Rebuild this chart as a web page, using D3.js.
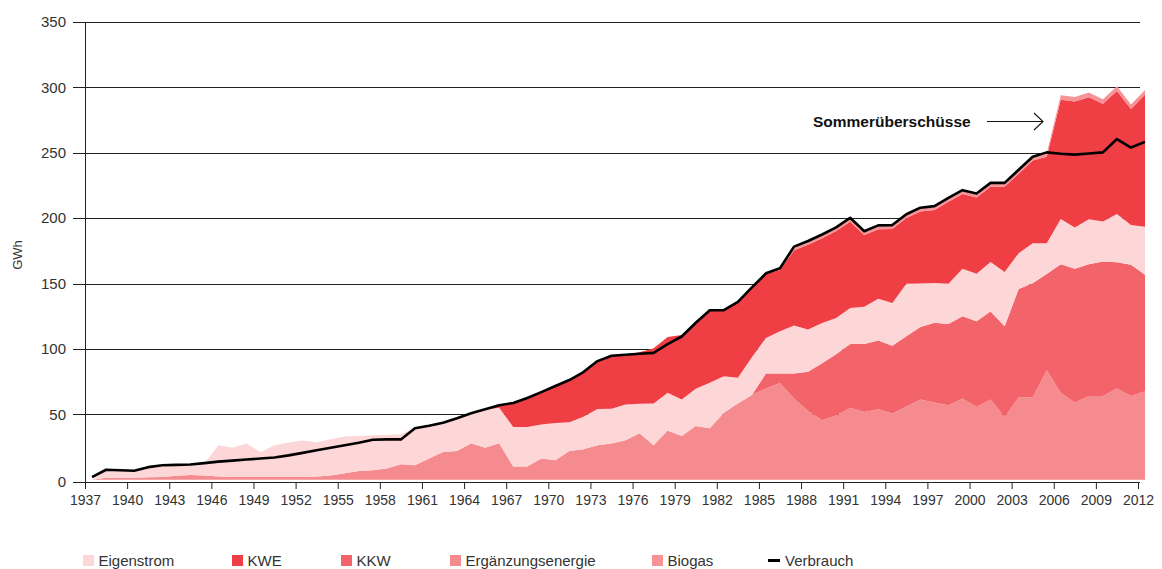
<!DOCTYPE html>
<html>
<head>
<meta charset="utf-8">
<script src="https://cdn.jsdelivr.net/npm/d3@7"></script>
<style>
  body { margin: 0; background: #fff; }
  svg { display: block; font-family: "Liberation Sans", Arial, Helvetica, sans-serif; }
</style>
</head>
<body>
<div id="graph"></div>
<script>
var years = d3.range(1937, 2013)

// GWh per year
var ergaenzung = [0, 1.5, 1.5, 1.5, 1.8, 2, 3, 3.5, 3.2, 2.5,
  2, 2, 2, 2, 2, 2, 2.5, 3.3, 4.9, 6.7,
  7.2, 8.5, 11.8, 11, 16.3, 21.2, 22, 27.8, 24.5, 27.8,
  10, 10, 16.2, 14.9, 22, 23.3, 26.3, 27.6, 30.1, 35.5,
  26.3, 37.7, 33.4, 41, 39.3, 51.2, 58.3, 64.7, 69.8, 74,
  62, 52.5, 45.5, 49, 55, 51.7, 53.8, 50.7, 56, 61.4,
  59, 57, 62, 55.5, 61.4, 48, 63, 63.1, 83.7, 66.5,
  59, 64, 64, 69.8, 64, 67.7]
var kkw = [0, 0, 0, 0, 0, 0, 0, 0, 0, 0,
  0, 0, 0, 0, 0, 0, 0, 0, 0, 0,
  0, 0, 0, 0, 0, 0, 0, 0, 0, 0,
  0, 0, 0, 0, 0, 0, 0, 0, 0, 0,
  0, 0, 0, 0, 0, 0, 0, 0, 11.4, 7.2,
  19.2, 30.1, 43.5, 47, 48.8, 52.1, 52.6, 51.8, 53.7, 55.4,
  61, 62, 62.9, 65.6, 67.3, 69.3, 82.8, 87.2, 73.6, 98.3,
  102.3, 100.8, 102.8, 96.5, 100.3, 89]
var eigenstrom = [0, 5.5, 5.3, 4.8, 7.2, 8.4, 7.8, 7.6, 9, 23.8,
  22.5, 25.6, 19, 24.3, 26.5, 28, 26.1, 27.7, 28.1, 26.7,
  26.7, 25.7, 22.9, 28.5, 25.3, 23.2, 26, 23.7, 29, 27.2,
  30.3, 30.3, 26.1, 28.5, 22, 24.9, 27.7, 26.7, 27.5, 22.5,
  32, 28.8, 28, 28.5, 34.8, 28, 19.6, 28.9, 27.2, 32.3,
  36.8, 32.2, 30.9, 27.7, 27.5, 28.5, 32, 32.6, 40.1, 33.2,
  30.5, 30.8, 36.4, 36.4, 37.7, 41.5, 27.4, 30.6, 23.6, 34.6,
  31.5, 34.4, 30.6, 36.9, 30.5, 36.8]
var kwe = [0, 0, 0, 0, 0, 0, 0, 0, 0, 0,
  0, 0, 0, 0, 0, 0, 0, 0, 0, 0,
  0, 0, 0, 0, 0, 0, 0, 0, 0, 2.5,
  18.2, 21.7, 24.2, 27.6, 31.5, 33.8, 36.5, 40.2, 37.9, 39.5,
  42.2, 42.7, 49.2, 50.5, 55.2, 50.1, 57.9, 53.2, 49.1, 46.8,
  57.5, 64.8, 64.7, 66.4, 66, 54.8, 53.1, 56.7, 50.3, 55.1,
  55.8, 62.7, 57.1, 58.3, 57.6, 65.2, 60.8, 63.1, 66.1, 91.1,
  96.4, 93.3, 90.1, 94.1, 88.7, 101]
var biogas = [0, 0, 0, 0, 0, 0, 0, 0, 0, 0,
  0, 0, 0, 0, 0, 0, 0, 0, 0, 0,
  0, 0, 0, 0, 0, 0, 0, 0, 0, 0,
  0, 0, 0, 0, 0, 0, 0, 0, 0, 0,
  0, 0, 0, 0, 0, 0, 0, 0, 0, 1,
  2, 2.2, 2.2, 2.2, 2.2, 2.2, 2.2, 2.2, 2.2, 2.2,
  2.2, 2.2, 2.2, 2.2, 2.2, 2.2, 2.2, 2.2, 2.5, 3.5,
  3.5, 3.5, 3.5, 3.5, 3.5, 3.5]
var verbrauch = [2, 7.6, 7.2, 6.8, 9.6, 11, 11.3, 11.6, 12.7, 13.8,
  14.6, 15.4, 16.2, 17, 18.6, 20.5, 22.5, 24.4, 26.4, 28.3,
  30.5, 30.8, 30.8, 39.4, 41.2, 43.5, 47, 50.8, 53.9, 57,
  58.7, 62.5, 67, 71.6, 76.2, 82.3, 90.7, 94.8, 95.6, 96.3,
  97, 103.6, 109.5, 120, 129.6, 129.6, 136, 147, 157.8, 161.7,
  178.2, 182.5, 187.5, 193, 200.3, 190, 194.5, 194.7, 203, 208,
  209.2, 215.5, 221.4, 218.8, 227, 227, 237, 247, 250.3, 249.3,
  248.6, 249.5, 250.3, 260.5, 254, 258.3]

var yTicks = [0, 50, 100, 150, 200, 250, 300, 350]
var xTicks = d3.range(1937, 2013, 3)

// stacked bottom -> top
var keys = ['erg', 'kkw', 'eig', 'kwe', 'bio']
var colors = {eig: '#fdd6d7', kwe: '#ef3e44', kkw: '#f2646a', erg: '#f58b8f', bio: '#f69397'}

var legend = [
  {label: 'Eigenstrom', key: 'eig', x: 83},
  {label: 'KWE', key: 'kwe', x: 232},
  {label: 'KKW', key: 'kkw', x: 341},
  {label: 'Ergänzungsenergie', key: 'erg', x: 450},
  {label: 'Biogas', key: 'bio', x: 652},
  {label: 'Verbrauch', key: 'line', x: 768}
]

var width = 1162, height = 569

var table = years.map(function(yr, i){
  return {year: yr, erg: ergaenzung[i], kkw: kkw[i], eig: eigenstrom[i], kwe: kwe[i], bio: biogas[i], v: verbrauch[i]}
})

var x = d3.scaleLinear().domain([1937, 2012]).range([85, 1138])
var y = d3.scaleLinear().domain([0, 350]).range([479.7, 22])

// points sit in the middle of each year
function px(d){ return x(d.year + 0.5) }

var svg = d3.select('#graph').append('svg')
    .attr('width', width)
    .attr('height', height)

//////////// grid + y labels ////////////
var grid = svg.append('g')
grid.selectAll('line')
  .data(yTicks.slice(1))
  .enter().append('line')
    .attr('x1', 73).attr('x2', 1140)
    .attr('y1', function(d){ return Math.round(y(d)) + 0.5 })
    .attr('y2', function(d){ return Math.round(y(d)) + 0.5 })
    .attr('stroke', '#222')
    .attr('stroke-width', 1)

svg.append('g').selectAll('text')
  .data(yTicks)
  .enter().append('text')
    .attr('x', 66)
    .attr('y', function(d){ return d == 0 ? 482 : y(d) })
    .attr('dy', '0.35em')
    .attr('text-anchor', 'end')
    .style('font-size', '15px')
    .attr('fill', '#333')
    .text(function(d){ return d })

svg.append('text')
  .attr('transform', 'translate(22,255) rotate(-90)')
  .attr('text-anchor', 'middle')
  .style('font-size', '13px')
  .attr('fill', '#333')
  .text('GWh')

//////////// stacked areas ////////////
var stack = d3.stack().keys(keys)
var series = stack(table)

var area = d3.area()
  .x(function(d){ return px(d.data) })
  .y0(function(d){ return y(d[0]) })
  .y1(function(d){ return y(d[1]) })

svg.append('g').selectAll('path')
  .data(series)
  .enter().append('path')
    .attr('d', area)
    .attr('fill', function(d){ return colors[d.key] })

//////////// x axis ////////////
var xAxis = d3.axisBottom(x)
  .tickValues(xTicks)
  .tickFormat(d3.format('d'))
  .tickSize(7)
  .tickPadding(6)

var gx = svg.append('g')
  .attr('transform', 'translate(0,482)')
  .call(xAxis)
gx.select('.domain').remove()
gx.append('line')
  .attr('x1', 73).attr('x2', 1140)
  .attr('y1', 0.5).attr('y2', 0.5)
  .attr('stroke', '#222')
gx.selectAll('.tick line').attr('stroke', '#222')
gx.selectAll('.tick text')
  .attr('fill', '#333')
  .style('font-size', '14px')
  .style('font-family', '"Liberation Sans", Arial, sans-serif')

// y axis line
svg.append('line')
  .attr('x1', 85.5).attr('x2', 85.5)
  .attr('y1', 22).attr('y2', 489)
  .attr('stroke', '#222')

//////////// Verbrauch line ////////////
var line = d3.line()
  .x(px)
  .y(function(d){ return y(d.v) })

svg.append('path')
  .datum(table)
  .attr('d', line)
  .attr('fill', 'none')
  .attr('stroke', '#000')
  .attr('stroke-width', 2.6)
  .attr('stroke-linejoin', 'round')

//////////// annotation ////////////
svg.append('text')
  .attr('x', 813)
  .attr('y', 127)
  .style('font-size', '15.5px')
  .style('font-weight', 'bold')
  .attr('fill', '#111')
  .text('Sommerüberschüsse')

svg.append('path')
  .attr('d', 'M987,121.5 L1043,121.5 M1034,113 L1043,121.5 L1034,130')
  .attr('fill', 'none')
  .attr('stroke', '#111')
  .attr('stroke-width', 1.1)

//////////// legend ////////////
var lg = svg.append('g').selectAll('g')
  .data(legend)
  .enter().append('g')
    .attr('transform', function(d){ return 'translate(' + d.x + ',555)' })

lg.filter(function(d){ return d.key != 'line' })
  .append('rect')
    .attr('width', 11).attr('height', 11)
    .attr('fill', function(d){ return colors[d.key] })

lg.filter(function(d){ return d.key == 'line' })
  .append('line')
    .attr('x1', 0).attr('x2', 12)
    .attr('y1', 5.5).attr('y2', 5.5)
    .attr('stroke', '#000')
    .attr('stroke-width', 3)

lg.append('text')
  .attr('x', function(d){ return d.key == 'line' ? 17 : 15.5 })
  .attr('y', 6)
  .attr('dy', '0.35em')
  .style('font-size', '15px')
  .attr('fill', '#333')
  .text(function(d){ return d.label })
</script>
</body>
</html>
